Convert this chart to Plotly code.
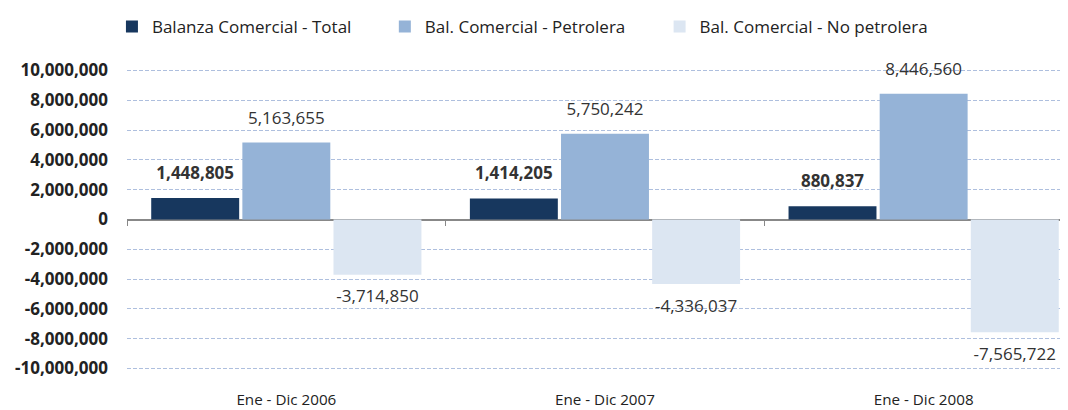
import plotly.graph_objects as go

categories = ["Ene - Dic 2006", "Ene - Dic 2007", "Ene - Dic 2008"]
total = [1448805, 1414205, 880837]
petrolera = [5163655, 5750242, 8446560]
no_petrolera = [-3714850, -4336037, -7565722]
series_names = ["Balanza Comercial - Total", "Bal. Comercial - Petrolera", "Bal. Comercial - No petrolera"]
y_ticks = list(range(-10000000, 10000001, 2000000))
y_tick_labels = [f"{v:,}" for v in y_ticks]

FONT = "Open Sans"
colors = ["#17375e", "#95b3d7", "#dce6f2"]
series = [
    (series_names[0], total, colors[0], True, "legend"),
    (series_names[1], petrolera, colors[1], False, "legend2"),
    (series_names[2], no_petrolera, colors[2], False, "legend3"),
]

fig = go.Figure()
for i, (name, vals, col, bold, lg) in enumerate(series):
    fig.add_trace(go.Bar(
        x=categories, y=vals, name=name, marker=dict(color=col, line=dict(width=0)),
        offsetgroup=str(i), legend=lg, hoverinfo="skip",
    ))
for i, (name, vals, col, bold, lg) in enumerate(series):
    txt = [f"<b>{v:,}</b>" if bold else f"{v:,}" for v in vals]
    fig.add_trace(go.Scatter(
        x=categories, y=vals, mode="markers+text", text=txt,
        textposition=["top center" if v >= 0 else "bottom center" for v in vals],
        marker=dict(size=22, opacity=0), offsetgroup=str(i), showlegend=False,
        textfont=dict(family=FONT, size=17, color="#333333"), cliponaxis=False,
        hoverinfo="skip",
    ))

# invisible trace to anchor the tick-mark axis at zero
fig.add_trace(go.Scatter(x=categories, y=[0, 0, 0], xaxis="x2", mode="markers",
                         marker=dict(opacity=0), showlegend=False, hoverinfo="skip"))

leg_common = dict(orientation="h", xanchor="left", y=1.14, yanchor="middle",
                  font=dict(family=FONT, size=17, color="#222222"),
                  bgcolor="rgba(0,0,0,0)")
xr = [-0.5, 2.453]
fig.update_layout(
    width=1060, height=402,
    margin=dict(l=119, r=0, t=61, b=40, autoexpand=False),
    paper_bgcolor="white", plot_bgcolor="white",
    barmode="group", bargap=0.142, bargroupgap=0.035,
    scattermode="group", scattergap=0.142,
    font=dict(family=FONT, size=15, color="#222222"),
    legend=dict(x=-0.016, **leg_common),
    legend2=dict(x=0.274, **leg_common),
    legend3=dict(x=0.566, **leg_common),
    xaxis=dict(type="category", categoryorder="array", categoryarray=categories,
               range=xr, showline=False, showgrid=False, ticks="", automargin=False,
               ticklabelstandoff=19,
               tickfont=dict(family=FONT, size=15.2, color="#222222")),
    xaxis2=dict(type="category", categoryorder="array", categoryarray=categories,
                range=xr, overlaying="x", anchor="free", position=0.5, side="bottom",
                showline=False, showgrid=False, ticks="outside", ticklen=5, automargin=False,
                tickcolor="#888888", tickwidth=1, tickson="boundaries", showticklabels=False),
    yaxis=dict(range=[-10100000, 10100000], tickvals=y_ticks, ticktext=y_tick_labels,
               showgrid=True, gridcolor="#aebfde", griddash="4px,2px", gridwidth=1,
               zeroline=True, zerolinecolor="#888888", zerolinewidth=2, automargin=False,
               showline=False, ticks="", ticklabelstandoff=18,
               tickfont=dict(family=FONT, size=17, color="#222222", weight="bold")),
)

fig.write_html("out.html")
